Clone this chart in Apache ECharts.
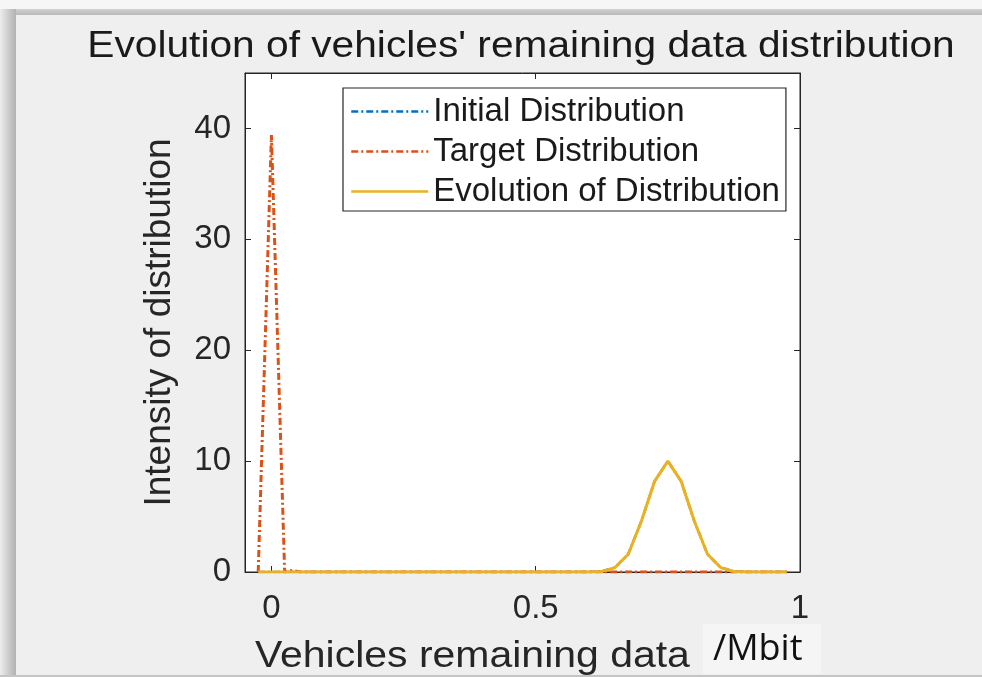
<!DOCTYPE html>
<html>
<head>
<meta charset="utf-8">
<script src="https://cdn.jsdelivr.net/npm/echarts@6/dist/echarts.min.js"></script>
<style>
html,body{margin:0;padding:0;background:#efefef;}
#c{width:982px;height:677px;}
</style>
</head>
<body>
<div id="c"></div>
<script>
// ---- data ----
var xTickValues = [0, 0.5, 1];
var xTickLabels = ['0', '0.5', '1'];
var yTickValues = [0, 10, 20, 30, 40];

var initX = [-0.025, 0.6, 0.625, 0.65, 0.675, 0.7, 0.725, 0.75, 0.775, 0.8, 0.825, 0.85, 0.875, 0.9, 0.975];
var initY = [0, 0, 0.05, 0.4, 1.6, 4.6, 8.2, 10.0, 8.2, 4.6, 1.6, 0.4, 0.05, 0, 0];

var targetX = [-0.025, 0, 0.025, 0.04, 0.055, 0.975];
var targetY = [0, 39.4, 0, 0.15, 0, 0];

var evoX = [-0.025, 0.6, 0.625, 0.65, 0.675, 0.7, 0.725, 0.75, 0.775, 0.8, 0.825, 0.85, 0.875, 0.9, 0.975];
var evoY = [0, 0, 0.05, 0.4, 1.6, 4.6, 8.2, 10.0, 8.2, 4.6, 1.6, 0.4, 0.05, 0, 0];

var seriesNames = ['Initial Distribution', 'Target Distribution', 'Evolution of Distribution'];

function pairs(xs, ys) { return xs.map(function (x, i) { return [x, ys[i]]; }); }

var FONT = '"Liberation Sans", Arial, sans-serif';
var AX = '#262626';
var chart = echarts.init(document.getElementById('c'), null, {renderer: 'canvas'});

function baseX(pos, showLabel) {
  return {
    type: 'value', position: pos, min: -0.05, max: 1, gridIndex: 0,
    axisLine: {show: true, onZero: false, lineStyle: {color: AX, width: 1}},
    axisTick: {show: true, inside: true, length: 6, customValues: xTickValues, lineStyle: {color: AX}},
    axisLabel: {show: showLabel, customValues: xTickValues, margin: 20, color: '#262626', fontSize: 33, fontFamily: FONT,
      formatter: function (v) { var i = xTickValues.indexOf(v); return i >= 0 ? xTickLabels[i] : ''; }},
    splitLine: {show: false}
  };
}
function baseY(pos, showLabel) {
  return {
    type: 'value', position: pos, min: 0, max: 45, gridIndex: 0,
    axisLine: {show: true, onZero: false, lineStyle: {color: AX, width: 1}},
    axisTick: {show: true, inside: true, length: 6, customValues: yTickValues, lineStyle: {color: AX}},
    axisLabel: {show: showLabel, customValues: yTickValues, margin: 14, color: '#262626', fontSize: 33, fontFamily: FONT},
    splitLine: {show: false}
  };
}

var yLeft = baseY('left', true);
yLeft.name = 'Intensity of distribution';
yLeft.nameLocation = 'middle';
yLeft.nameGap = 67;
yLeft.nameTextStyle = {color: '#262626', fontSize: 37, fontFamily: FONT};

var dash = [7, 3, 2, 3];

chart.setOption({
  backgroundColor: '#efefef',
  animation: false,
  grid: {left: 245, right: 182, top: 73, bottom: 105, show: true, backgroundColor: '#ffffff', borderColor: AX, borderWidth: 1},
  legend: {
    orient: 'vertical', left: 343, top: 88,
    data: seriesNames,
    backgroundColor: '#ffffff', borderColor: AX, borderWidth: 1.2, borderRadius: 0,
    padding: [7, 6, 3, 7], itemGap: 7, itemWidth: 77, itemHeight: 14,
    itemStyle: {opacity: 0},
    lineStyle: {width: 2.5},
    textStyle: {color: '#1a1a1a', fontSize: 33, fontFamily: FONT, lineHeight: 33}
  },
  xAxis: [baseX('bottom', true), baseX('top', false)],
  yAxis: [yLeft, baseY('right', false)],
  series: [
    {name: seriesNames[0], type: 'line', data: pairs(initX, initY), symbol: 'none', xAxisIndex: 0, yAxisIndex: 0,
      lineStyle: {color: '#0072BD', width: 2.5, type: dash}, itemStyle: {color: '#0072BD'}, z: 2},
    {name: seriesNames[1], type: 'line', data: pairs(targetX, targetY), symbol: 'none', xAxisIndex: 0, yAxisIndex: 0,
      lineStyle: {color: '#D95319', width: 3, type: dash}, itemStyle: {color: '#D95319'}, z: 3},
    {name: seriesNames[2], type: 'line', data: pairs(evoX, evoY), symbol: 'none', xAxisIndex: 0, yAxisIndex: 0,
      lineStyle: {color: '#EDB120', width: 3, type: 'solid'}, itemStyle: {color: '#EDB120'}, z: 4}
  ],
  graphic: [
    {type: 'rect', left: 0, top: 0, z: -10, silent: true, shape: {width: 982, height: 9}, style: {fill: '#f6f6f6'}},
    {type: 'rect', left: 0, top: 9, z: -9, silent: true, shape: {width: 982, height: 6},
      style: {fill: new echarts.graphic.LinearGradient(0, 0, 0, 1, [{offset: 0, color: '#d2d2d2'}, {offset: 1, color: '#b9b9b9'}])}},
    {type: 'rect', left: 0, top: 9, z: -8, silent: true, shape: {width: 16, height: 668},
      style: {fill: new echarts.graphic.LinearGradient(0, 0, 1, 0, [{offset: 0, color: '#ededed'}, {offset: 0.6, color: '#c8c8c8'}, {offset: 1, color: '#b2b2b2'}])}},
    {type: 'rect', left: 0, top: 675, z: -7, silent: true, shape: {width: 982, height: 2}, style: {fill: '#c4c4c4'}},
    {type: 'text', x: 521, y: 28, scaleX: 1.10, z: 10, silent: true,
      style: {text: "Evolution of vehicles' remaining data distribution", fill: '#1a1a1a', font: '37px ' + FONT, textAlign: 'center', textVerticalAlign: 'top'}},
    {type: 'text', x: 255, y: 638, scaleX: 1.107, z: 10, silent: true,
      style: {text: 'Vehicles remaining data', fill: '#262626', font: '37px ' + FONT, textAlign: 'left', textVerticalAlign: 'top'}},
    {type: 'rect', left: 703, top: 624, z: 11, silent: true, shape: {width: 118, height: 50}, style: {fill: '#f5f5f5'}},
    {type: 'text', x: 713, y: 632, z: 12, silent: true,
      style: {text: '/Mbit', fill: '#111111', font: '36px "Open Sans", "Liberation Sans", sans-serif', textAlign: 'left', textVerticalAlign: 'top'}}
  ]
});
</script>
</body>
</html>
